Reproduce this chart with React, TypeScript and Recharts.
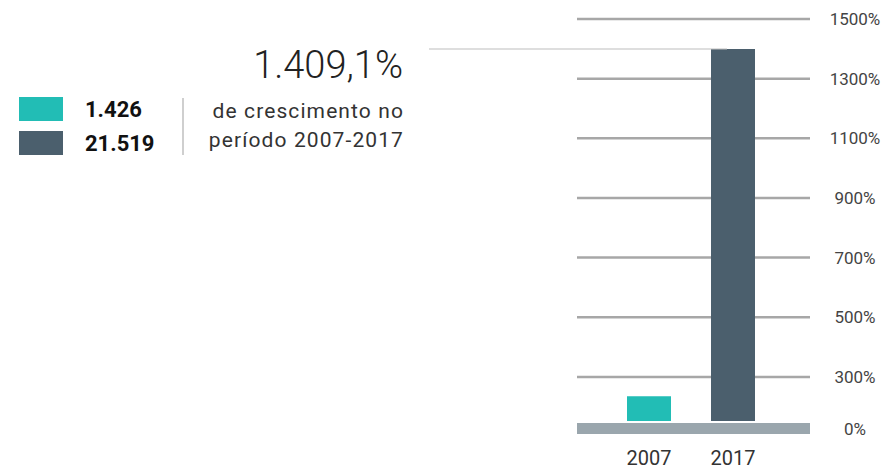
import React from "react";
import {
  BarChart,
  Bar,
  Cell,
  XAxis,
  YAxis,
  CartesianGrid,
  ReferenceLine,
  Legend,
} from "recharts";

// workers, 2007 vs 2017 (pt-BR number format)
const YEARS = ["2007", "2017"];
const TOTALS = [1.426, 21.519];
const TOTAL_LABELS = ["1.426", "21.519"];
const BAR_COLORS = ["#22bdb5", "#4b5f6d"];

const PCT_TICKS = [0, 300, 500, 700, 900, 1100, 1300, 1500];
const GROWTH_LABEL = "1.409,1%";
const GROWTH_TEXT = ["de crescimento no", "período 2007-2017"];

// the picture puts "0%" on the baseline, below the evenly spaced grid
const PCT_FLOOR = 127;

const data = YEARS.map((year, i) => ({ year, total: TOTALS[i] }));
const pctTicks = PCT_TICKS.map((v) => Math.max(v, PCT_FLOOR));

const FONT = "Roboto, 'Noto Sans', sans-serif";

function LegendBox() {
  return (
    <div style={{ fontFamily: FONT }}>
      {TOTAL_LABELS.map((label, i) => (
        <div
          key={label}
          style={{ display: "flex", alignItems: "center", height: 24, marginBottom: i === 0 ? 10 : 0 }}
        >
          <span style={{ width: 44, height: 24, background: BAR_COLORS[i], display: "inline-block" }} />
          <span style={{ marginLeft: 22, fontSize: 22, fontWeight: 700, color: "#111" }}>{label}</span>
        </div>
      ))}
    </div>
  );
}

export default function App() {
  return (
    <div style={{ position: "absolute", left: 0, top: 0, width: 888, height: 470, background: "#fff" }}>
      <div
        style={{
          position: "absolute",
          right: 888 - 403,
          top: 43,
          fontFamily: FONT,
          fontWeight: 300,
          fontSize: 38,
          color: "#222",
          whiteSpace: "nowrap",
        }}
      >
        {GROWTH_LABEL}
      </div>
      <div
        style={{
          position: "absolute",
          left: 182,
          top: 98,
          width: 2,
          height: 57,
          background: "#cfcfcf",
        }}
      />
      <div
        style={{
          position: "absolute",
          right: 888 - 404,
          top: 97,
          fontFamily: FONT,
          fontSize: 21,
          lineHeight: "29px",
          color: "#333",
          textAlign: "right",
          whiteSpace: "nowrap",
          letterSpacing: 1.1,
        }}
      >
        {GROWTH_TEXT.map((t) => (
          <div key={t}>{t}</div>
        ))}
      </div>

      <BarChart
        width={888}
        height={470}
        data={data}
        margin={{ top: 19, right: 0, bottom: 0, left: 577 }}
        style={{ fontFamily: FONT }}
      >
        <CartesianGrid
          yAxisId="pct"
          vertical={false}
          stroke="#a7a7a7"
          strokeWidth={2.5}
        />
        <XAxis
          dataKey="year"
          axisLine={false}
          tickLine={false}
          tickSize={0}
          tickMargin={22}
          height={41.5}
          padding={{ left: 30, right: 35 }}
          tick={{ fill: "#333", fontSize: 20 }}
        />
        <YAxis
          yAxisId="pct"
          orientation="right"
          width={78}
          domain={[PCT_FLOOR, 1500]}
          allowDataOverflow
          ticks={pctTicks}
          interval={0}
          axisLine={false}
          tickLine={false}
          tickSize={0}
          tickMargin={45}
          tickFormatter={(v: number) => (v === PCT_FLOOR ? "0%" : `${v}%`)}
          tick={{ fill: "#444", fontSize: 17, textAnchor: "middle" }}
        />
        <YAxis yAxisId="val" hide domain={[-0.434, 23.254]} allowDataOverflow />
        {/* connector from the growth label to the top of the 2017 bar (ends under the bar) */}
        <ReferenceLine
          yAxisId="val"
          y={TOTALS[1]}
          stroke="#bdbdbd"
          strokeWidth={1.2}
          shape={(p: any) => (
            <line x1={p.x1 - 148} y1={p.y1} x2={p.x1 + 150} y2={p.y2} stroke="#bdbdbd" strokeWidth={1.2} />
          )}
        />
        <Bar yAxisId="val" dataKey="total" barSize={44} isAnimationActive={false}>
          {data.map((d, i) => (
            <Cell key={d.year} fill={BAR_COLORS[i]} />
          ))}
        </Bar>
        <ReferenceLine yAxisId="pct" y={PCT_FLOOR} stroke="#9aa6ad" strokeWidth={11} />
        <Legend
          layout="vertical"
          align="center"
          verticalAlign="middle"
          wrapperStyle={{ left: 19, top: 97, width: 160, height: 60 }}
          content={() => <LegendBox />}
        />
      </BarChart>
    </div>
  );
}
